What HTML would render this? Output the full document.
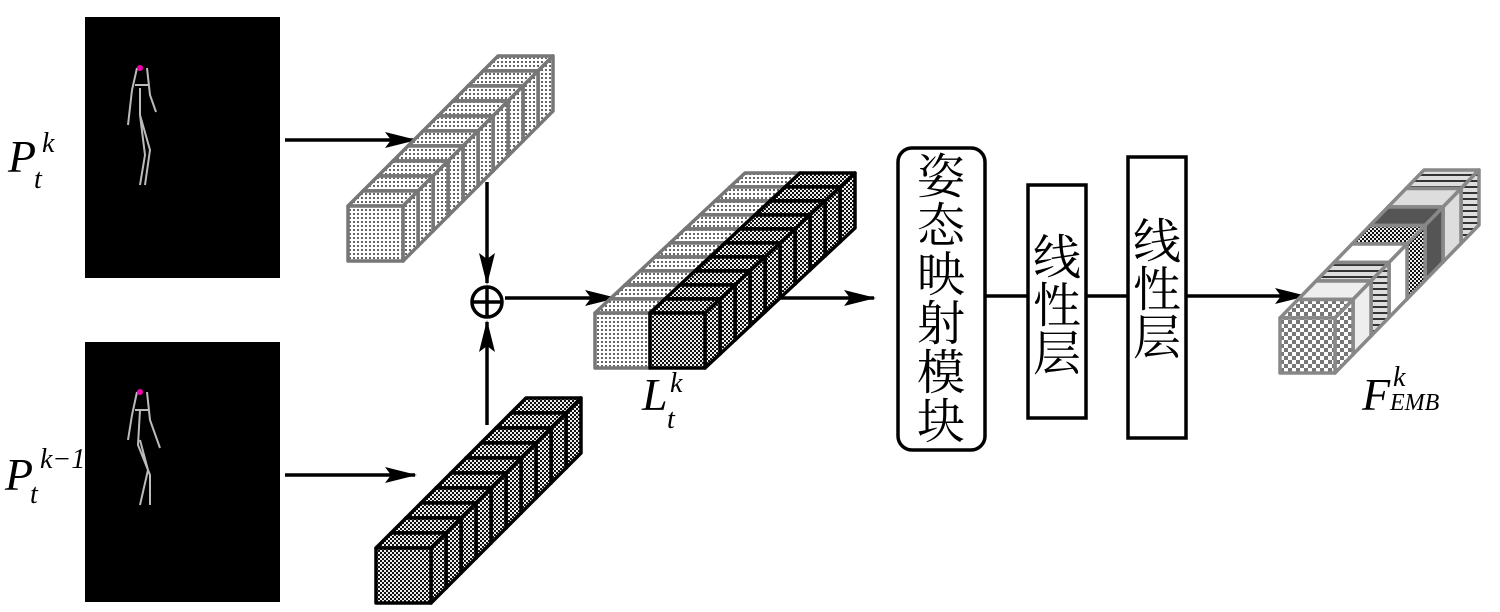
<!DOCTYPE html>
<html><head><meta charset="utf-8"><style>
html,body{margin:0;padding:0;background:#fff;width:1500px;height:612px;overflow:hidden}
svg{display:block}
.lab{font-family:"Liberation Serif",serif;font-style:italic}
.cn{font-family:"Liberation Serif","Noto Serif CJK SC",serif}
</style></head><body>
<svg id="s" width="1500" height="612" viewBox="0 0 1500 612" xmlns="http://www.w3.org/2000/svg">
<defs>
<pattern id="dot" width="4" height="4" patternUnits="userSpaceOnUse"><rect width="4" height="4" fill="#fff"/><rect x="1" y="1" width="2" height="2" fill="#666"/></pattern>
<pattern id="chk" width="4" height="4" patternUnits="userSpaceOnUse"><rect width="4" height="4" fill="#eee"/><rect width="2" height="2" fill="#111"/><rect x="2" y="2" width="2" height="2" fill="#111"/></pattern>
<pattern id="chk2" width="8" height="8" patternUnits="userSpaceOnUse"><rect width="8" height="8" fill="#fff"/><rect width="4" height="4" fill="#777"/><rect x="4" y="4" width="4" height="4" fill="#777"/></pattern>
<pattern id="str" width="6" height="6" patternUnits="userSpaceOnUse"><rect width="6" height="6" fill="#ddd"/><rect width="6" height="2" fill="#333"/></pattern>
<marker id="ah" markerWidth="32" markerHeight="16" refX="30" refY="8" orient="auto" markerUnits="userSpaceOnUse"><path d="M0,0 L32,8 L0,16 L6,8 z"/></marker>
</defs>
<rect x="85" y="17" width="195" height="261" fill="#000"/>
<rect x="85" y="342" width="195" height="260" fill="#000"/>
<g stroke="#bbb" stroke-width="2" fill="none">
<path d="M137,68 L132,90 L128,125 M147,68 L150,95 L156,112 M135,85 L148,85 M140,88 L140,115 L145,155 L140,185 M140,115 L150,150 L145,185"/>
<path d="M137,392 L132,415 L128,440 M147,392 L150,420 L160,448 M135,410 L148,410 M140,410 L138,445 L150,475 L150,505 M140,440 L148,470 L140,505"/>
</g>
<g fill="#e0a" ><circle cx="140" cy="68" r="3"/><circle cx="140" cy="392" r="3"/></g>
<g stroke="#000" stroke-width="3.5" fill="none">
<line x1="285" y1="140" x2="415" y2="140" marker-end="url(#ah)"/>
<line x1="285" y1="475" x2="415" y2="475" marker-end="url(#ah)"/>
<line x1="487" y1="182" x2="487" y2="283" marker-end="url(#ah)"/>
<line x1="487" y1="425" x2="487" y2="322" marker-end="url(#ah)"/>
<circle cx="487" cy="302" r="15"/><line x1="472" y1="302" x2="502" y2="302"/><line x1="487" y1="287" x2="487" y2="317"/>
<line x1="505" y1="298" x2="615" y2="298" marker-end="url(#ah)"/>
<line x1="770" y1="298" x2="874" y2="298" marker-end="url(#ah)"/>
<line x1="985" y1="296" x2="1028" y2="296"/>
<line x1="1086" y1="296" x2="1128" y2="296"/>
<line x1="1186" y1="296" x2="1305" y2="296" marker-end="url(#ah)"/>
</g>
<g id="cubes"></g>
<rect x="898" y="148" width="87" height="302" rx="14" fill="#fff" stroke="#000" stroke-width="3.5"/>
<rect x="1028" y="185" width="58" height="233" fill="#fff" stroke="#000" stroke-width="3.5"/>
<rect x="1128" y="157" width="58" height="281" fill="#fff" stroke="#000" stroke-width="3.5"/>
<g class="cn" font-size="48" text-anchor="middle">
<text x="941" y="193">姿</text><text x="941" y="242">态</text><text x="941" y="291">映</text><text x="941" y="340">射</text><text x="941" y="389">模</text><text x="941" y="438">块</text>
<text x="1057" y="274">线</text><text x="1057" y="322">性</text><text x="1057" y="370">层</text>
<text x="1157" y="258">线</text><text x="1157" y="306">性</text><text x="1157" y="354">层</text>
</g>
<text class="lab" x="8" y="172" font-size="46">P</text><text class="lab" x="34" y="188" font-size="28">t</text><text class="lab" x="42" y="152" font-size="28">k</text>
<text class="lab" x="5" y="490" font-size="46">P</text><text class="lab" x="30" y="503" font-size="28">t</text><text class="lab" x="40" y="468" font-size="28">k−1</text>
<text class="lab" x="642" y="410" font-size="46">L</text><text class="lab" x="667" y="428" font-size="28">t</text><text class="lab" x="670" y="392" font-size="28">k</text>
<text class="lab" x="1362" y="410" font-size="46">F</text><text class="lab" x="1390" y="410" font-size="24">EMB</text><text class="lab" x="1393" y="386" font-size="28">k</text>
</svg>
<script>
var g=document.getElementById('cubes'),ns='http://www.w3.org/2000/svg';
function p(d,f,st){var e=document.createElementNS(ns,'path');e.setAttribute('d',d);e.setAttribute('fill',f);e.setAttribute('stroke',st);e.setAttribute('stroke-width','3.5');e.setAttribute('stroke-linejoin','round');g.appendChild(e);}
function stack(x,y,s,n,dx,dy,fills,st){
 for(var i=n-1;i>=0;i--){var X=x+i*dx,Y=y-i*dy,f=fills[i%fills.length];
  p('M'+X+','+Y+' l'+dx+','+(-dy)+' h'+s+' l'+(-dx)+','+dy+' z',f,st);
  p('M'+(X+s)+','+Y+' l'+dx+','+(-dy)+' v'+s+' l'+(-dx)+','+dy+' z',f,st);
  p('M'+X+','+Y+' h'+s+' v'+s+' h'+(-s)+' z',f,st);}
}
stack(348,206,55,10,15,15,['url(#dot)'],'#777');
stack(376,548,55,10,15,15,['url(#chk)'],'#000');
stack(595,313,55,10,15,14,['url(#dot)'],'#777');
stack(650,313,55,10,15,14,['url(#chk)'],'#000');
stack(1280,318,55,8,18,18.5,['url(#chk2)','#eee','url(#str)','#fff','url(#chk)','#555','#ddd','url(#str)'],'#888');
</script>
</body></html>
